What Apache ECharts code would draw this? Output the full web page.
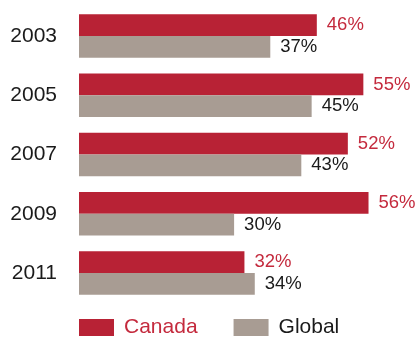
<!DOCTYPE html>
<html>
<head>
<meta charset="utf-8">
<script src="https://cdn.jsdelivr.net/npm/echarts@6/dist/echarts.min.js"></script>
<style>
  html, body { margin: 0; padding: 0; background: #fff; }
  #chart { width: 416px; height: 341px; }
</style>
</head>
<body>
<div id="chart"></div>
<script>
// Survey years, top to bottom
const years = ['2003', '2005', '2007', '2009', '2011'];
// Share of respondents, percent
const canadaValues = [46, 55, 52, 56, 32];
const globalValues = [37, 45, 43, 30, 34];
const seriesNames = ['Canada', 'Global'];

const RED = '#b82235';
const RED_TEXT = '#c42a3d';
const GREY = '#a89c93';
const FONT = '"Liberation Sans", Arial, Helvetica, sans-serif';

const chart = echarts.init(document.getElementById('chart'), null, { renderer: 'canvas' });

const valueLabel = (color) => ({
  show: true,
  position: 'right',
  distance: 10,
  formatter: '{c}%',
  color: color,
  fontFamily: FONT,
  fontSize: 18.5
});

chart.setOption({
  animation: false,
  backgroundColor: '#ffffff',
  grid: { left: 79, top: 6.4, width: 310.2, height: 296.2, containLabel: false },
  xAxis: {
    type: 'value',
    min: 0,
    max: 60,
    show: false
  },
  yAxis: {
    type: 'category',
    data: years,
    inverse: true,
    axisLine: { show: false },
    axisTick: { show: false },
    splitLine: { show: false },
    axisLabel: {
      margin: 22,
      color: '#1a1a1a',
      fontFamily: FONT,
      fontSize: 21
    }
  },
  legend: {
    left: 79,
    top: 317,
    padding: 0,
    itemWidth: 35,
    itemHeight: 17,
    itemGap: 36,
    icon: 'rect',
    textStyle: { fontFamily: FONT, fontSize: 21, padding: [0, 0, 0, 5] },
    data: [
      { name: seriesNames[0], textStyle: { color: RED_TEXT } },
      { name: seriesNames[1], textStyle: { color: '#1a1a1a' } }
    ]
  },
  series: [
    {
      name: seriesNames[0],
      type: 'bar',
      data: canadaValues,
      barWidth: 21.7,
      barGap: '0%',
      itemStyle: { color: RED },
      label: valueLabel(RED_TEXT)
    },
    {
      name: seriesNames[1],
      type: 'bar',
      data: globalValues,
      barWidth: 21.7,
      barGap: '0%',
      itemStyle: { color: GREY },
      label: valueLabel('#1a1a1a')
    }
  ]
});
</script>
</body>
</html>
